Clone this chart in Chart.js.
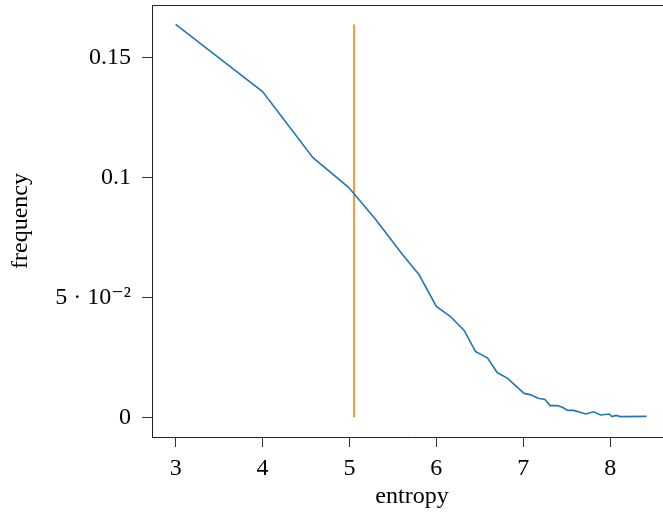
<!DOCTYPE html>
<html>
<head>
<meta charset="utf-8">
<script src="https://cdn.jsdelivr.net/npm/chart.js@4"></script>
<style>
html, body { margin: 0; padding: 0; overflow: hidden; background: #fff; }
#wrap { position: relative; width: 672px; height: 512px; }
</style>
</head>
<body>
<div id="wrap"><canvas id="c"></canvas></div>
<script>
const entropyX = [3.0, 4.0, 4.58, 4.99, 5.30, 5.61, 5.80, 6.00, 6.16, 6.32, 6.45, 6.59, 6.70, 6.82, 7.01, 7.08, 7.17, 7.25, 7.31, 7.39, 7.45, 7.51, 7.58, 7.72, 7.81, 7.89, 7.99, 8.02, 8.07, 8.12, 8.42];
const frequencyY = [0.1640, 0.1360, 0.1084, 0.0960, 0.0827, 0.0680, 0.0596, 0.0463, 0.0422, 0.0363, 0.0275, 0.0247, 0.0187, 0.0163, 0.0100, 0.0095, 0.0080, 0.0075, 0.0049, 0.0049, 0.0042, 0.0029, 0.0029, 0.0014, 0.0023, 0.0010, 0.0014, 0.0003, 0.0008, 0.0003, 0.0004];
const markerX = [5.053, 5.053];
const markerY = [0, 0.164];
const xTickValues = [3, 4, 5, 6, 7, 8];
const yTickValues = [0, 0.05, 0.1, 0.15];
const yTickLabels = ['0', '5 · 10⁻²', '0.1', '0.15'];

const FONT = "'Liberation Serif', 'DejaVu Serif', serif";

const frameTop = {
  id: 'frameTop',
  afterDraw(chart) {
    const a = chart.chartArea, ctx = chart.ctx;
    ctx.save();
    ctx.strokeStyle = '#222';
    ctx.lineWidth = 1;
    ctx.beginPath();
    ctx.moveTo(a.left, a.top + 0.5);
    ctx.lineTo(a.right, a.top + 0.5);
    ctx.lineTo(a.right, a.bottom);
    ctx.stroke();
    ctx.restore();
  }
};

new Chart(document.getElementById('c'), {
  type: 'line',
  data: {
    datasets: [
      {
        data: entropyX.map((x, i) => ({ x: x, y: frequencyY[i] })),
        borderColor: '#1f77b4',
        borderWidth: 1.6,
        pointRadius: 0,
        tension: 0,
        fill: false
      },
      {
        data: markerX.map((x, i) => ({ x: x, y: markerY[i] })),
        borderColor: '#ff7f0e',
        borderWidth: 1.6,
        pointRadius: 0,
        tension: 0,
        fill: false
      }
    ]
  },
  options: {
    responsive: true,
    maintainAspectRatio: false,
    animation: false,
    events: [],
    layout: { padding: { top: 5, left: 0, right: 0, bottom: 0 } },
    plugins: { legend: { display: false }, tooltip: { enabled: false } },
    scales: {
      x: {
        type: 'linear',
        min: 2.728,
        max: 8.712,
        afterBuildTicks: s => { s.ticks = xTickValues.map(v => ({ value: v })); },
        afterFit: s => { s.height = 75; s.paddingLeft = 0; s.paddingRight = 0; },
        grid: { drawOnChartArea: false, drawTicks: true, tickLength: 10, tickColor: '#333', tickWidth: 1 },
        border: { color: '#222', width: 1 },
        ticks: { color: '#000', font: { family: FONT, size: 24 }, padding: 7, maxRotation: 0, callback: v => String(v) },
        title: { display: true, text: 'entropy', color: '#000', font: { family: FONT, size: 24 }, padding: { top: 0, bottom: 1 } }
      },
      y: {
        type: 'linear',
        min: -0.0082,
        max: 0.1721,
        afterBuildTicks: s => { s.ticks = yTickValues.map(v => ({ value: v })); },
        afterFit: s => { s.width = 152; s.paddingTop = 0; s.paddingBottom = 0; },
        grid: { drawOnChartArea: false, drawTicks: true, tickLength: 10, tickColor: '#333', tickWidth: 1 },
        border: { color: '#222', width: 1 },
        ticks: {
          color: '#000', font: { family: FONT, size: 24 }, padding: 11,
          callback: (v) => { const i = yTickValues.findIndex(t => Math.abs(t - v) < 1e-9); return i >= 0 ? yTickLabels[i] : ''; }
        },
        title: { display: true, text: 'frequency', color: '#000', font: { family: FONT, size: 24 }, padding: { top: 6, bottom: 0 } }
      }
    }
  },
  plugins: [frameTop]
});
</script>
</body>
</html>
